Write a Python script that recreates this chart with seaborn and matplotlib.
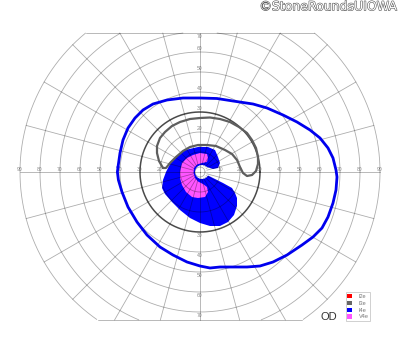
import numpy as np
import pandas as pd
import matplotlib
matplotlib.use("Agg")
import matplotlib.pyplot as plt
import matplotlib.patheffects as pe
from matplotlib.patches import Patch
import seaborn as sns

# ---------------- data (degrees of visual field: x = horizontal, y = vertical) ----------------
i4e_line_x = [-41, -40, -38.5, -36, -32.5, -28.5, -23.5, -16.5, -8.5, 0, 8.5, 16.5, 26.5, 33.5, 41.5,
              48.5, 55, 60, 64, 66.5, 68, 68.5, 68, 66.5, 64, 61, 56.5, 51, 43.5, 36.5, 30, 23.5,
              16.5, 10, 5, 0, -6.5, -13.5, -20, -26.5, -31.5, -36, -39, -40.8, -41.3]
i4e_line_y = [2.5, 9.5, 16, 22, 27, 31, 34, 36, 37, 37, 36.75, 35.5, 34, 32, 28.5,
              25, 21, 17, 12, 7, 1, -2.5, -9, -15.5, -22.5, -28, -32.5, -36.5, -41.5, -45, -47, -47.5,
              -47.5, -47.5, -48, -47, -45, -41.5, -37.5, -31.5, -25, -17.5, -10, -4, 0]

i3e_line_x = [-18.5, -20.5, -21.5, -21.5, -20, -17.5, -14, -10, -5, 0, 5, 10, 15, 19.5, 23.5, 26,
              28, 29, 29, 28, 26, 23.5, 21.5, 20, 18.5, 16, 12.5, 8, 3.5, -1, -5, -8.5, -12, -15, -17]
i3e_line_y = [2, 5.5, 9.5, 13, 17, 20, 23, 25, 26.5, 27, 27.25, 26.5, 25, 22.5, 19.5, 16,
              12, 7.5, 4, 0.5, -1.5, -2, -0.5, 2.5, 6, 9, 11, 13, 13.5, 13.5, 12.5, 10.5, 7.5, 4.5, 2]

i4e_area_x = [3.5, 6.5, 9, 10, 9, 7.5, 4, -1, -7.5, -11.5, -15, -17, -18.5, -19, -17.5, -14, -10,
              -5, 0, 5, 10, 14, 17, 18.5, 18.5, 17.5, 16, 11.5, 6.5, 3.5]
i4e_area_y = [2.5, 1.5, 2, 4.5, 7.5, 11, 12.5, 12.5, 11, 8, 4, 0, -4, -8, -11, -15, -19,
              -23, -25.5, -27, -27, -25, -21.5, -17, -13, -10.5, -8, -5.5, -3, -1.5]

v4e_area_x = [-9, -6.5, -3.5, 0, 3.5, 4, 3.5, 1, -1.5, -3, -3.25, -2.5, -1, 1.5, 3.5, 4, 2.5,
              -1, -4, -7, -9, -10, -10, -9.5]
v4e_area_y = [4.5, 7, 8.5, 9.5, 9, 7, 5, 4.5, 3.75, 2, -0.5, -3, -4.75, -6, -7.5, -10, -12.5,
              -13, -12.5, -10, -6.5, -3, 0, 2.5]

scotoma_center = (1.0, 0.0)
scotoma_radius = 3.5

ring_radii = [10, 20, 30, 40, 50, 60, 70, 80, 90]
meridians = list(range(0, 360, 15))
field_top, field_bottom = 69.5, -74
legend_labels = ["I2e", "I3e", "I4e", "V4e"]
legend_colors = ["#ff0000", "#666666", "#0000ff", "#ff55ff"]

# ---------------- figure ----------------
sns.set_theme(style="white")
plt.rcParams['font.family'] = ['Liberation Sans', 'DejaVu Sans']
fig = plt.figure(figsize=(4.0, 3.52), dpi=100)
ax = fig.add_axes([0, 0, 1, 1])

grid_kw = dict(color='black', alpha=0.32, lw=0.6, zorder=3)

# rings clipped to the field band
t = np.linspace(0, 2 * np.pi, 721)
for r in ring_radii:
    xs, ys = r * np.cos(t), r * np.sin(t)
    m = (ys > field_top) | (ys < field_bottom)
    xs = np.where(m, np.nan, xs); ys = np.where(m, np.nan, ys)
    if r == 30:
        ax.plot(xs, ys, color='#4a4a4a', lw=1.1, zorder=3)
    else:
        ax.plot(xs, ys, **grid_kw)
ax.plot(2.5 * np.cos(t), 2.5 * np.sin(t), **grid_kw)

# boundary chords
for yb in (field_top, field_bottom):
    half = np.sqrt(90 ** 2 - yb ** 2)
    ax.plot([-half, half], [yb, yb], **grid_kw)

# meridians
for a in meridians:
    th = np.deg2rad(a)
    s = np.sin(th)
    rend = 90.0
    if s > 1e-9:
        rend = min(rend, field_top / s)
    elif s < -1e-9:
        rend = min(rend, -field_bottom / -s)
    r0 = 0 if a % 90 == 0 else scotoma_radius
    ax.plot([r0 * np.cos(th), rend * np.cos(th)], [r0 * np.sin(th), rend * np.sin(th)], **grid_kw)

# scale labels
lab_kw = dict(fontsize=3.6, color='#8a8a8a', ha='center', va='center', zorder=1)
for r in ring_radii:
    ax.text(-r, 1.3, str(r), **lab_kw)
    ax.text(r, 1.3, str(r), **lab_kw)
for r in ring_radii[:7]:
    ax.text(0, -(r + 1.6), str(r), **lab_kw)
    ytop = r + 1.6 if r < 70 else 68
    ax.text(0, ytop, str(r), **lab_kw)

# filled isopters
ax.fill(i4e_area_x, i4e_area_y, color='#0000ff', lw=0, zorder=2)
ax.fill(v4e_area_x, v4e_area_y, color='#ff55ff', lw=0, zorder=2.1)
ax.fill(scotoma_center[0] + scotoma_radius * np.cos(t), scotoma_center[1] + scotoma_radius * np.sin(t),
        color='white', lw=0, zorder=2.2)

# isopter lines
df4 = pd.DataFrame({'x': i4e_line_x + i4e_line_x[:1], 'y': i4e_line_y + i4e_line_y[:1]})
sns.lineplot(data=df4, x='x', y='y', sort=False, estimator=None, ax=ax, color='#0000ee', lw=2.0,
             zorder=4)
df3 = pd.DataFrame({'x': i3e_line_x + i3e_line_x[:1], 'y': i3e_line_y + i3e_line_y[:1]})
sns.lineplot(data=df3, x='x', y='y', sort=False, estimator=None, ax=ax, color='#5e5e5e', lw=1.6,
             zorder=4)
for ln in ax.get_lines()[-2:]:
    ln.set_solid_joinstyle('round')

ax.set_xlim(-100, 100)
ax.set_ylim(-90, 86)
ax.set_aspect('equal')
ax.axis('off')

# texts
ax.text(98.5, 82.6, "©StoneRoundsUIOWA", fontsize=9, color='white', ha='right', va='center',
        family='DejaVu Sans',
        path_effects=[pe.withStroke(linewidth=0.8, foreground='#555555')], zorder=5)
ax.text(64.3, -72.5, "OD", fontsize=8, color='#333333', ha='center', va='center', zorder=5)

handles = [Patch(facecolor=c, edgecolor='none') for c in legend_colors]
leg = ax.legend(handles, legend_labels, loc='lower left', bbox_to_anchor=(345.5 / 400, 31 / 352),
                bbox_transform=fig.transFigure, fontsize=4, frameon=True, fancybox=False,
                edgecolor='#bbbbbb', borderpad=0.3, handlelength=0.8, handleheight=0.8,
                labelspacing=0.3, handletextpad=1.3, borderaxespad=0)
leg.get_frame().set_linewidth(0.6)
for txt in leg.get_texts():
    txt.set_color('#777777')

fig.savefig("out.png", dpi=100)
